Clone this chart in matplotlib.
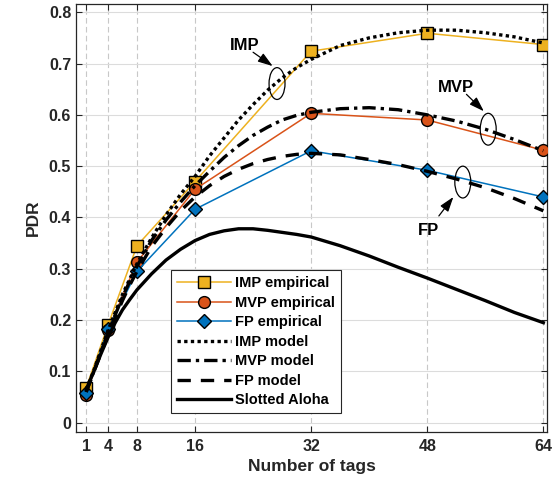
import numpy as np
import matplotlib.pyplot as plt
from matplotlib.patches import Ellipse

plt.rcParams['font.family'] = ['Liberation Sans', 'DejaVu Sans']
plt.rcParams['font.weight'] = 'bold'

# empirical points
x_emp = [1, 4, 8, 16, 32, 48, 64]
imp_emp = [0.068, 0.190, 0.345, 0.470, 0.724, 0.759, 0.737]
mvp_emp = [0.055, 0.180, 0.313, 0.455, 0.603, 0.590, 0.531]
fp_emp = [0.058, 0.182, 0.295, 0.416, 0.530, 0.492, 0.440]

# model curves
x_mod = [1, 2, 3, 4, 5, 6, 7, 8, 10, 12, 14, 16, 18, 20, 22, 24, 26, 28, 30, 32,
         36, 40, 44, 48, 52, 56, 60, 64]
imp_mod = [0.065, 0.100, 0.140, 0.180, 0.215, 0.250, 0.280, 0.310, 0.360, 0.405,
           0.445, 0.480, 0.520, 0.555, 0.590, 0.620, 0.648, 0.672, 0.692, 0.708,
           0.735, 0.750, 0.760, 0.765, 0.765, 0.760, 0.752, 0.740]
mvp_mod = [0.060, 0.098, 0.137, 0.175, 0.210, 0.245, 0.275, 0.305, 0.355, 0.395,
           0.430, 0.462, 0.490, 0.517, 0.540, 0.560, 0.576, 0.590, 0.599, 0.605,
           0.612, 0.614, 0.610, 0.600, 0.588, 0.572, 0.552, 0.530]
fp_mod = [0.060, 0.097, 0.134, 0.170, 0.205, 0.238, 0.268, 0.295, 0.343, 0.380,
          0.413, 0.440, 0.462, 0.480, 0.494, 0.505, 0.513, 0.519, 0.523, 0.525,
          0.522, 0.513, 0.503, 0.490, 0.475, 0.458, 0.437, 0.413]
aloha = [0.065, 0.098, 0.133, 0.166, 0.195, 0.220, 0.240, 0.259, 0.290, 0.317,
         0.338, 0.355, 0.367, 0.374, 0.378, 0.378, 0.375, 0.371, 0.367, 0.362,
         0.345, 0.325, 0.303, 0.282, 0.260, 0.238, 0.215, 0.195]

xticks = [1, 4, 8, 16, 32, 48, 64]
yticks = [0, 0.1, 0.2, 0.3, 0.4, 0.5, 0.6, 0.7, 0.8]

fig = plt.figure(figsize=(5.59, 4.83), dpi=100)
ax = fig.add_axes([0.136, 0.1056, 0.8425, 0.8861])

ax.set_xlim(-0.4, 64.5)
ax.set_ylim(-0.018, 0.816)
ax.set_xticks(xticks)
ax.set_yticks(yticks)
ax.set_yticklabels(['0', '0.1', '0.2', '0.3', '0.4', '0.5', '0.6', '0.7', '0.8'])

ax.grid(axis='y', color='#dcdcdc', lw=0.8)
for xv in xticks:
    ax.axvline(xv, color='#c8c8c8', lw=0.8, ls=(0, (5, 3)), zorder=0)
ax.set_axisbelow(True)

ax.plot(x_emp, imp_emp, '-s', color='#EDB120', mfc='#EDB120', mec='black',
        ms=8, lw=1.1, label='IMP empirical', zorder=3)
ax.plot(x_emp, mvp_emp, '-o', color='#D95319', mfc='#D95319', mec='black',
        ms=8.5, lw=1.1, label='MVP empirical', zorder=3)
ax.plot(x_emp, fp_emp, '-D', color='#0072BD', mfc='#0072BD', mec='black',
        ms=7.5, lw=1.1, label='FP empirical', zorder=3)
ax.plot(x_mod, imp_mod, color='black', lw=2.4, ls=(0, (1, 1)), label='IMP model', zorder=4)
ax.plot(x_mod, mvp_mod, color='black', lw=2.4, ls=(0, (4, 1.5, 1, 1.5)), label='MVP model', zorder=4)
ax.plot(x_mod, fp_mod, color='black', lw=2.4, ls=(0, (4, 3)), label='FP model', zorder=4)
ax.plot(x_mod, aloha, color='black', lw=2.4, label='Slotted Aloha', zorder=4)

# annotation ellipses, arrows and labels
for cx, cy in [(27.3, 0.661), (56.4, 0.572), (52.9, 0.469)]:
    ax.add_patch(Ellipse((cx, cy), 2.2, 0.062, fill=False, ec='black', lw=0.9, zorder=5))
arr = dict(arrowstyle='-|>,head_length=0.9,head_width=0.3', color='black', lw=0.9,
           shrinkA=0, shrinkB=0)
ax.annotate('', xy=(26.7, 0.695), xytext=(24.0, 0.722), arrowprops=arr, zorder=6)
ax.annotate('', xy=(55.8, 0.607), xytext=(53.4, 0.640), arrowprops=arr, zorder=6)
ax.annotate('', xy=(51.6, 0.440), xytext=(49.6, 0.403), arrowprops=arr, zorder=6)
ax.text(22.9, 0.735, 'IMP', ha='center', va='center', fontsize=12, fontweight='bold')
ax.text(51.9, 0.654, 'MVP', ha='center', va='center', fontsize=12, fontweight='bold')
ax.text(48.2, 0.375, 'FP', ha='center', va='center', fontsize=12, fontweight='bold')

ax.tick_params(direction='in', top=True, right=True, labelsize=11.5, colors='#262626',
               length=4, width=0.8)
ax.tick_params(axis='x', pad=5)
for lab in ax.get_xticklabels() + ax.get_yticklabels():
    lab.set_fontweight('bold')
for s in ax.spines.values():
    s.set_color('#262626')
    s.set_linewidth(0.9)

ax.set_xlabel('Number of tags', fontsize=12.5, fontweight='bold', color='#262626', labelpad=4)
ax.set_ylabel('PDR', fontsize=12.5, fontweight='bold', color='#262626', labelpad=6)

leg = ax.legend(loc='lower left', bbox_to_anchor=(0.186, 0.027), frameon=True,
                fancybox=False, edgecolor='#262626', framealpha=1,
                handlelength=3.7, handletextpad=0.3, borderpad=0.4, labelspacing=0.38,
                prop={'weight': 'bold', 'size': 10.5})
leg.get_frame().set_linewidth(0.8)

fig.savefig('out.png', dpi=100)
